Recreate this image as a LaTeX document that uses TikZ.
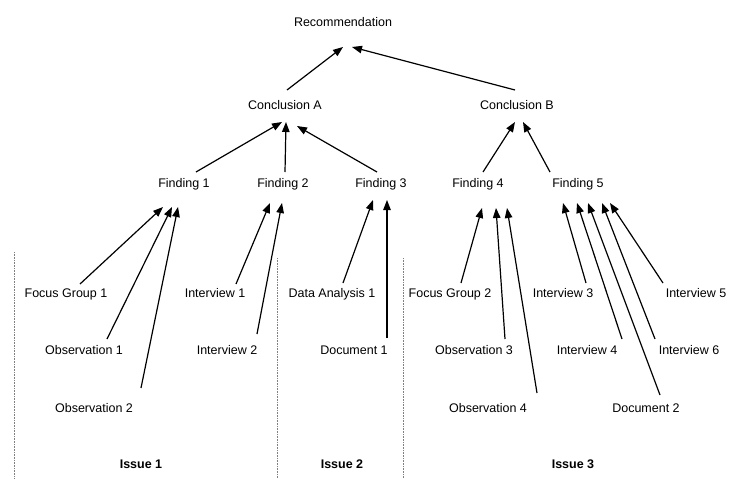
\documentclass[tikz,border=0pt]{standalone}
\usepackage{fontspec}
\setmainfont{Liberation Sans}
\usetikzlibrary{arrows.meta}
\begin{document}
\begin{tikzpicture}[x=1pt,y=-1pt,
  lbl/.style={inner sep=0pt,text height=9pt,text depth=0pt,font=\fontsize{12.5}{14}\selectfont},
  issue/.style={lbl,font=\fontsize{12.5}{14}\selectfont\bfseries},
  arr/.style={line width=1.2pt,-{Triangle[length=10pt,width=7.5pt]}},
  sep/.style={gray,line width=0.6pt,dash pattern=on 0.8pt off 0.8pt}]
\useasboundingbox (0,0) rectangle (732,479);
\node[lbl] (rec) at (343,22) {Recommendation};
\node[lbl] (ca) at (285,105) {Conclusion A};
\node[lbl] (cb) at (517,105) {Conclusion B};
\node[lbl] (f1) at (184,183) {Finding 1};
\node[lbl] (f2) at (283,183) {Finding 2};
\node[lbl] (f3) at (381,183) {Finding 3};
\node[lbl] (f4) at (478,183) {Finding 4};
\node[lbl] (f5) at (578,183) {Finding 5};
\node[lbl] (fg1) at (66,293) {Focus Group 1};
\node[lbl] (ob1) at (84,350) {Observation 1};
\node[lbl] (ob2) at (94,408) {Observation 2};
\node[lbl] (in1) at (215,293) {Interview 1};
\node[lbl] (in2) at (227,350) {Interview 2};
\node[lbl] (da1) at (332,293) {Data Analysis 1};
\node[lbl] (do1) at (354,350) {Document 1};
\node[lbl] (fg2) at (450,293) {Focus Group 2};
\node[lbl] (ob3) at (474,350) {Observation 3};
\node[lbl] (ob4) at (488,408) {Observation 4};
\node[lbl] (in3) at (563,293) {Interview 3};
\node[lbl] (in4) at (587,350) {Interview 4};
\node[lbl] (do2) at (646,408) {Document 2};
\node[lbl] (in6) at (689,350) {Interview 6};
\node[lbl] (in5) at (696,293) {Interview 5};
\node[issue] (is1) at (141,464) {Issue 1};
\node[issue] (is2) at (342,464) {Issue 2};
\node[issue] (is3) at (573,464) {Issue 3};
% separators
\coordinate (s1t) at (14,252); \coordinate (s1b) at (14,479);
\coordinate (s2t) at (277,258); \coordinate (s2b) at (277,479);
\coordinate (s3t) at (403,258); \coordinate (s3b) at (403,479);
\draw[sep] (s1t) -- (s1b);
\draw[sep] (s2t) -- (s2b);
\draw[sep] (s3t) -- (s3b);
% level 1
\draw[arr] ([shift={(2,-15)}]ca.center) -- ([shift={(0,25)}]rec.center);
\draw[arr] ([shift={(-2,-15)}]cb.center) -- ([shift={(9,25)}]rec.center);
% findings to conclusions
\draw[arr] ([shift={(12,-11)}]f1.center) -- ([shift={(-3,17)}]ca.center);
\draw[arr] ([shift={(2,-11)}]f2.center) -- ([shift={(1,17)}]ca.center);
\draw[arr] ([shift={(-4,-11)}]f3.center) -- ([shift={(12,21)}]ca.center);
\draw[arr] ([shift={(5,-11)}]f4.center) -- ([shift={(-2,17)}]cb.center);
\draw[arr] ([shift={(-28,-11)}]f5.center) -- ([shift={(6,17)}]cb.center);
% sources to findings
\draw[arr] ([shift={(14,-9)}]fg1.center) -- ([shift={(-21,24)}]f1.center);
\draw[arr] ([shift={(23,-11)}]ob1.center) -- ([shift={(-12,24)}]f1.center);
\draw[arr] ([shift={(47,-20)}]ob2.center) -- ([shift={(-6,24)}]f1.center);
\draw[arr] ([shift={(21,-9)}]in1.center) -- ([shift={(-13,20)}]f2.center);
\draw[arr] ([shift={(30,-16)}]in2.center) -- ([shift={(-1,20)}]f2.center);
\draw[arr] ([shift={(11,-10)}]da1.center) -- ([shift={(-8,17)}]f3.center);
\draw[arr] ([shift={(33,-12)}]do1.center) -- ([shift={(6,17)}]f3.center);
\draw[arr] ([shift={(11,-10)}]fg2.center) -- ([shift={(4,25)}]f4.center);
\draw[arr] ([shift={(31,-11)}]ob3.center) -- ([shift={(18,25)}]f4.center);
\draw[arr] ([shift={(49,-15)}]ob4.center) -- ([shift={(29,25)}]f4.center);
\draw[arr] ([shift={(23,-10)}]in3.center) -- ([shift={(-15,20)}]f5.center);
\draw[arr] ([shift={(35,-11)}]in4.center) -- ([shift={(-1,20)}]f5.center);
\draw[arr] ([shift={(14,-13)}]do2.center) -- ([shift={(10,20)}]f5.center);
\draw[arr] ([shift={(-34,-11)}]in6.center) -- ([shift={(24,20)}]f5.center);
\draw[arr] ([shift={(-33,-10)}]in5.center) -- ([shift={(32,20)}]f5.center);
\end{tikzpicture}
\end{document}
